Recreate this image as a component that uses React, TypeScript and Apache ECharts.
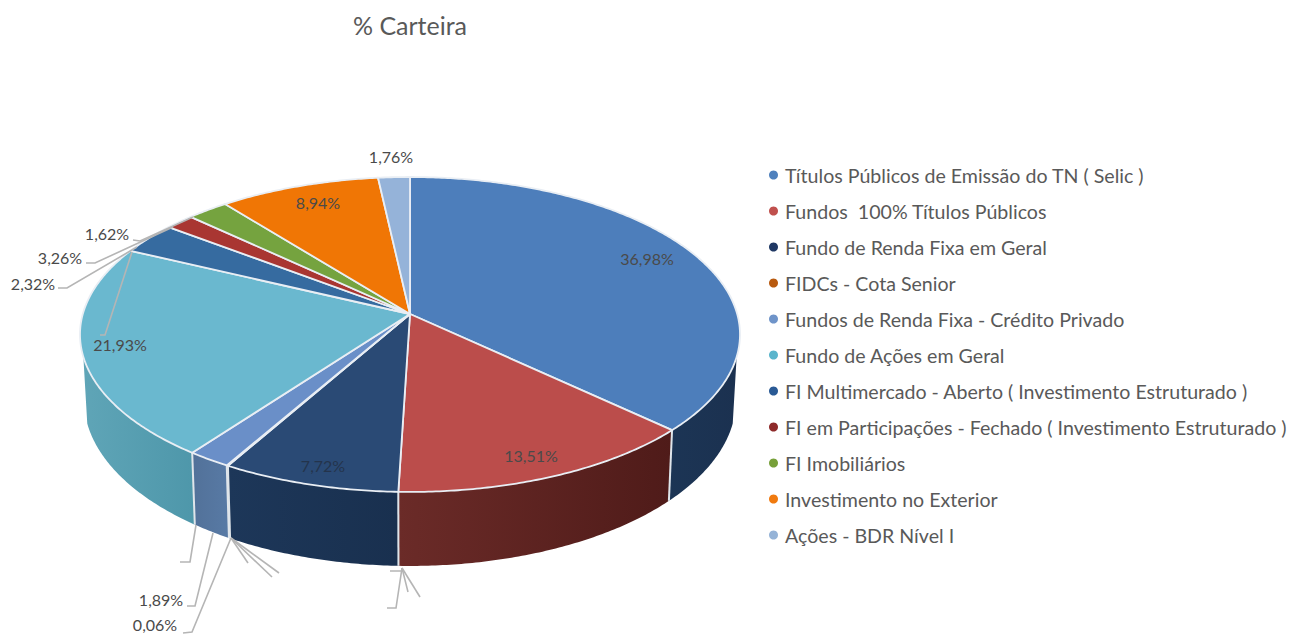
import React, { useEffect, useRef } from "react";
import * as echarts from "echarts";

const categories = [
  "Títulos Públicos de Emissão do TN ( Selic )",
  "Fundos  100% Títulos Públicos",
  "Fundo de Renda Fixa em Geral",
  "FIDCs - Cota Senior",
  "Fundos de Renda Fixa - Crédito Privado",
  "Fundo de Ações em Geral",
  "FI Multimercado - Aberto ( Investimento Estruturado )",
  "FI em Participações - Fechado ( Investimento Estruturado )",
  "FI Imobiliários",
  "Investimento no Exterior",
  "Ações - BDR Nível I",
];
const values = [36.98, 13.51, 7.72, 0.06, 1.89, 21.93, 3.26, 1.62, 2.32, 8.94, 1.76];
const valueLabels = ["36,98%", "13,51%", "7,72%", "0,06%", "1,89%", "21,93%", "3,26%", "1,62%", "2,32%", "8,94%", "1,76%"];

const legendColors = ["#4f81bd", "#c0504d", "#1f3864", "#b85a0f", "#6f94c9", "#5bb5cc", "#2a5a95", "#8e2a2a", "#77a03a", "#f07a0f", "#95b3d7"];
const faceColors = ["#4d7ebb", "#bb4d4b", "#2a4a75", "#5f82b8", "#6a8fc8", "#6ab8cf", "#366ba0", "#a93632", "#75a33f", "#f07605", "#95b3d9"];
const wallColors: [string, string][] = [
  ["#1c3555", "#1b3150"], ["#6b2b28", "#4f1b19"], ["#1d3759", "#19304f"], ["#3f5f8a", "#3f5f8a"], ["#527199", "#587aa5"],
  ["#5fa5b7", "#4e97aa"], ["#1c3555", "#1c3555"], ["#5a1c1a", "#5a1c1a"], ["#4c6c27", "#4c6c27"], ["#a8530a", "#a8530a"], ["#6a86a8", "#6a86a8"],
];

// label anchor (centre) on the page for each value label
const labelAt: [number, number][] = [
  [647, 258], [531, 455], [323, 465], [155, 624], [161, 599], [120, 344], [60, 257], [107, 233], [33, 283], [318, 202], [391, 156],
];
// leader lines, page coordinates; the picture draws them by hand-placed bends
const leaders: [number, number][][][] = [
  [], // Selic
  [[[390, 571], [402, 571], [402, 568]], [[387, 608], [396, 608], [402, 568]], [[408, 592], [402, 568]], [[420, 597], [402, 568]]],
  [[[248, 563], [231, 538]], [[272, 577], [231, 538]], [[279, 573], [231, 538]]],
  [[[183, 633], [192, 632], [231, 538]]],
  [[[187, 606], [195, 606], [213, 533]]],
  [[[100, 335], [105, 335], [132, 252]]],
  [[[86, 263], [95, 263], [173, 227]]],
  [[[133, 240], [140, 241], [193, 217]]],
  [[[58, 288], [67, 288], [137, 247]]],
  [],
  [],
  [[[180, 562], [190, 562], [196, 525]]],
];

const CX = 410, CY = 314, A = 327.2, B = 154.8, K = 0.13, DEPTH = 64.4, SHRINK = 0.988;
const FONT = "Lato";
const TEXT = "#595959";

const total = values.reduce((a, b) => a + b, 0);
const starts: number[] = [];
values.reduce((acc, v, i) => { starts[i] = acc; return acc + v; }, 0);

function top(theta: number): [number, number] {
  const X = Math.sin(theta), Y = -Math.cos(theta), d = 1 - K * Y;
  return [CX + (A * X) / d, CY + (B * Y) / d];
}
function bottom(theta: number): [number, number] {
  const Y = -Math.cos(theta), d = 1 - K * Y;
  const p = top(theta);
  return [CX + (p[0] - CX) * SHRINK, p[1] + DEPTH / d];
}
function arc(a0: number, a1: number, fn: (t: number) => [number, number]) {
  const n = Math.max(2, Math.ceil(Math.abs(a1 - a0) / 0.01));
  const pts: [number, number][] = [];
  for (let i = 0; i <= n; i++) pts.push(fn(a0 + ((a1 - a0) * i) / n));
  return pts;
}
const WALL_FROM = (105.5 * Math.PI) / 180; // where the side wall starts on the right
const WALL_TO = (254.5 * Math.PI) / 180; // where it ends on the left

function renderSlice(params: any, api: any) {
  const i = params.seriesIndex;
  const v = api.value(0);
  const a0 = (starts[i] / total) * 2 * Math.PI;
  const a1 = ((starts[i] + v) / total) * 2 * Math.PI;
  const children: any[] = [];

  const w0 = Math.max(a0, WALL_FROM), w1 = Math.min(a1, WALL_TO);
  if (w1 > w0) {
    const pts = arc(w0, w1, top).concat(arc(w1, w0, bottom));
    const [c0, c1] = wallColors[i];
    children.push({
      type: "polygon", z2: 1, shape: { points: pts },
      style: {
        fill: new echarts.graphic.LinearGradient(0, 0, 1, 0, [
          { offset: 0, color: c0 },
          { offset: 1, color: c1 },
        ]),
        stroke: "none",
      },
    });
    if (a0 >= WALL_FROM && a0 <= WALL_TO) {
      children.push({
        type: "line", z2: 2,
        shape: { x1: top(a0)[0], y1: top(a0)[1], x2: bottom(a0)[0], y2: bottom(a0)[1] },
        style: { stroke: "#dfe5ea", lineWidth: 2 },
      });
    }
  }
  const face = [[CX, CY] as [number, number]].concat(arc(a0, a1, top));
  children.push({
    type: "polygon", z2: 3, shape: { points: face },
    style: { fill: faceColors[i], stroke: "#e9eef4", lineWidth: 1.8, lineJoin: "round" },
  });
  for (const line of leaders[i] || []) {
    children.push({
      type: "polyline", z2: 4, shape: { points: line },
      style: { fill: "none", stroke: "#b5b5b5", lineWidth: 1.6 },
    });
  }
  if (i === leaders.length - 2) {
    for (const line of leaders[leaders.length - 1]) {
      children.push({
        type: "polyline", z2: 4, shape: { points: line },
        style: { fill: "none", stroke: "#b5b5b5", lineWidth: 1.6 },
      });
    }
  }
  children.push({
    type: "text", z2: 5, x: labelAt[i][0], y: labelAt[i][1],
    style: {
      text: valueLabels[i], fontFamily: FONT, fontSize: 16,
      fill: i === 2 ? "#24344c" : "#4a4a4a", align: "center", verticalAlign: "middle",
    },
  });
  return { type: "group", children };
}

export default function App() {
  const ref = useRef<HTMLDivElement>(null);
  useEffect(() => {
    const chart = echarts.init(ref.current!, undefined, { renderer: "svg" });
    chart.setOption({
      animation: false,
      backgroundColor: "#ffffff",
      title: {
        text: "% Carteira", left: 410, top: 12, padding: 0, textAlign: "center",
        textStyle: { fontFamily: FONT, fontSize: 25, fontWeight: "normal", color: TEXT },
      },
      legend: {
        orient: "vertical", left: 769, top: 164, padding: 0,
        icon: "circle", itemWidth: 9, itemHeight: 9, itemGap: 14, selectedMode: false,
        data: categories,
        textStyle: { fontFamily: FONT, fontSize: 19.6, color: TEXT, lineHeight: 22, padding: [0, 0, 0, 2] },
      },
      series: categories.map((name, i) => ({
        type: "custom",
        name,
        coordinateSystem: "none",
        silent: true,
        itemStyle: { color: legendColors[i] },
        data: [[values[i]]],
        renderItem: renderSlice,
      })),
    });
    return () => chart.dispose();
  }, []);
  return <div ref={ref} style={{ position: "absolute", left: 0, top: 0, width: 1290, height: 634 }} />;
}
